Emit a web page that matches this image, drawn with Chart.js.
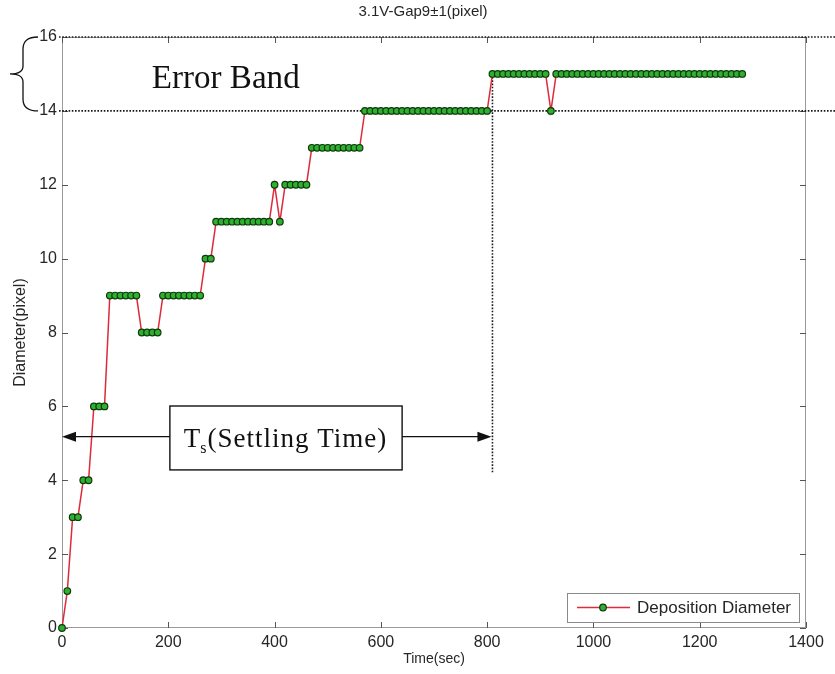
<!DOCTYPE html>
<html>
<head>
<meta charset="utf-8">
<script src="https://cdn.jsdelivr.net/npm/chart.js@4.4.1/dist/chart.umd.min.js"></script>
<style>
  html, body { margin: 0; padding: 0; background: #fff; }
  #wrap { width: 835px; height: 674px; position: relative; }
</style>
</head>
<body>
<div id="wrap"><canvas id="c" width="835" height="674"></canvas></div>
<script>
// Sample times (s) and the measured deposition diameter (pixel) at each one
const timeSec = [
  0, 10, 20, 30, 40, 50, 60, 70, 80, 90, 100, 110, 120,
  130, 140, 150, 160, 170, 180, 190, 200, 210, 220, 230, 240, 250,
  260, 270, 280, 290, 300, 310, 320, 330, 340, 350, 360, 370, 380,
  390, 400, 410, 420, 430, 440, 450, 460, 470, 480, 490, 500, 510,
  520, 530, 540, 550, 560, 570, 580, 590, 600, 610, 620, 630, 640,
  650, 660, 670, 680, 690, 700, 710, 720, 730, 740, 750, 760, 770,
  780, 790, 800, 810, 820, 830, 840, 850, 860, 870, 880, 890, 900,
  910, 920, 930, 940, 950, 960, 970, 980, 990, 1000, 1010, 1020, 1030,
  1040, 1050, 1060, 1070, 1080, 1090, 1100, 1110, 1120, 1130, 1140, 1150, 1160,
  1170, 1180, 1190, 1200, 1210, 1220, 1230, 1240, 1250, 1260, 1270, 1280
];
const diameterPx = [
  0, 1, 3, 3, 4, 4, 6, 6, 6, 9, 9, 9, 9,
  9, 9, 8, 8, 8, 8, 9, 9, 9, 9, 9, 9, 9,
  9, 10, 10, 11, 11, 11, 11, 11, 11, 11, 11, 11, 11,
  11, 12, 11, 12, 12, 12, 12, 12, 13, 13, 13, 13, 13,
  13, 13, 13, 13, 13, 14, 14, 14, 14, 14, 14, 14, 14,
  14, 14, 14, 14, 14, 14, 14, 14, 14, 14, 14, 14, 14,
  14, 14, 14, 15, 15, 15, 15, 15, 15, 15, 15, 15, 15,
  15, 14, 15, 15, 15, 15, 15, 15, 15, 15, 15, 15, 15,
  15, 15, 15, 15, 15, 15, 15, 15, 15, 15, 15, 15, 15,
  15, 15, 15, 15, 15, 15, 15, 15, 15, 15, 15, 15
];
const xTickValues = [0, 200, 400, 600, 800, 1000, 1200, 1400];
const xTickLabels = ['0', '200', '400', '600', '800', '1000', '1200', '1400'];
const yTickValues = [0, 2, 4, 6, 8, 10, 12, 14, 16];
const yTickLabels = ['0', '2', '4', '6', '8', '10', '12', '14', '16'];

const chartTitle = '3.1V-Gap9\u00b11(pixel)';
const xAxisTitle = 'Time(sec)';
const yAxisTitle = 'Diameter(pixel)';
const seriesName = 'Deposition Diameter';

// Error band limits (pixel) and settling time (s)
const errorBand = [14, 16];
const settlingTime = 810;
const settlingArrowY = 5.18;
const settlingLineBottom = 4.2;

const SANS = '"Liberation Sans", Arial, sans-serif';
const SERIF = '"Liberation Serif", "DejaVu Serif", serif';
const LINE_RED = '#dc2b3c';
const MARK_GREEN = '#2fb02f';
const MARK_EDGE = '#0c3a0c';
const TEXT_GREY = '#262626';

function dotted(ctx, x1, y1, x2, y2) {
  ctx.save();
  ctx.strokeStyle = '#1a1a1a';
  ctx.lineWidth = 1.6;
  ctx.setLineDash([1.6, 1.6]);
  ctx.beginPath();
  ctx.moveTo(x1, y1);
  ctx.lineTo(x2, y2);
  ctx.stroke();
  ctx.restore();
}

function arrow(ctx, x1, y, x2) {
  const dir = Math.sign(x2 - x1);
  ctx.save();
  ctx.strokeStyle = '#111';
  ctx.fillStyle = '#111';
  ctx.lineWidth = 1.4;
  ctx.beginPath();
  ctx.moveTo(x1, y);
  ctx.lineTo(x2 - dir * 10, y);
  ctx.stroke();
  ctx.beginPath();
  ctx.moveTo(x2, y);
  ctx.lineTo(x2 - dir * 14, y - 5);
  ctx.lineTo(x2 - dir * 14, y + 5);
  ctx.closePath();
  ctx.fill();
  ctx.restore();
}

function fitFont(ctx, family, text, width) {
  ctx.font = '100px ' + family;
  return 100 * width / ctx.measureText(text).width;
}

const matlabLook = {
  id: 'matlabLook',
  beforeDatasetsDraw(chart) {
    const { ctx, chartArea: a, scales: { x, y } } = chart;
    // axes box
    ctx.save();
    ctx.strokeStyle = '#9a9a9a';
    ctx.lineWidth = 1;
    ctx.strokeRect(a.left + 0.5, a.top + 0.5, a.right - a.left - 1, a.bottom - a.top - 1);
    // inward tick marks on all four sides
    ctx.strokeStyle = '#555';
    ctx.beginPath();
    x.ticks.forEach(t => {
      const px = Math.round(x.getPixelForValue(t.value)) + 0.5;
      ctx.moveTo(px, a.bottom); ctx.lineTo(px, a.bottom - 6);
      ctx.moveTo(px, a.top); ctx.lineTo(px, a.top + 6);
    });
    y.ticks.forEach(t => {
      const py = Math.round(y.getPixelForValue(t.value)) + 0.5;
      ctx.moveTo(a.left, py); ctx.lineTo(a.left + 6, py);
      ctx.moveTo(a.right, py); ctx.lineTo(a.right - 6, py);
    });
    ctx.stroke();
    ctx.restore();

    // error band limits and settling-time marker
    errorBand.forEach(v => {
      const py = y.getPixelForValue(v);
      dotted(ctx, a.left - 3, py, chart.width, py);
    });
    const sx = x.getPixelForValue(settlingTime);
    dotted(ctx, sx, y.getPixelForValue(15), sx, y.getPixelForValue(settlingLineBottom));
  },
  afterDatasetsDraw(chart) {
    const { ctx, chartArea: a, scales: { x, y } } = chart;
    ctx.save();

    // title
    ctx.fillStyle = TEXT_GREY;
    ctx.font = '15px ' + SANS;
    ctx.textAlign = 'center';
    ctx.textBaseline = 'middle';
    ctx.fillText(chartTitle, (a.left + a.right) / 2 - 11, 12);

    // curly brace marking the error band
    const yTop = y.getPixelForValue(errorBand[1]);
    const yBot = y.getPixelForValue(errorBand[0]);
    const ym = (yTop + yBot) / 2;
    const bx = 23, tipX = 10, endX = 38;
    ctx.strokeStyle = '#111';
    ctx.lineWidth = 1.3;
    ctx.beginPath();
    ctx.moveTo(endX, yTop);
    ctx.quadraticCurveTo(bx, yTop, bx, yTop + 12);
    ctx.lineTo(bx, ym - 8);
    ctx.quadraticCurveTo(bx, ym, tipX, ym);
    ctx.quadraticCurveTo(bx, ym, bx, ym + 8);
    ctx.lineTo(bx, yBot - 12);
    ctx.quadraticCurveTo(bx, yBot, endX, yBot);
    ctx.stroke();

    // "Error Band" label
    const ebText = 'Error Band';
    const ebSize = fitFont(ctx, SERIF, ebText, 148);
    ctx.font = ebSize.toFixed(1) + 'px ' + SERIF;
    ctx.fillStyle = '#111';
    ctx.textAlign = 'left';
    ctx.textBaseline = 'alphabetic';
    ctx.fillText(ebText, x.getPixelForValue(169), y.getPixelForValue(14.62));

    // settling time box and arrows
    const bl = x.getPixelForValue(203), br = x.getPixelForValue(640);
    const bt = y.getPixelForValue(6.01), bb = y.getPixelForValue(4.28);
    const ay = y.getPixelForValue(settlingArrowY);
    ctx.fillStyle = '#fff';
    ctx.fillRect(bl, bt, br - bl, bb - bt);
    ctx.strokeStyle = '#111';
    ctx.lineWidth = 1.4;
    ctx.strokeRect(bl, bt, br - bl, bb - bt);
    arrow(ctx, bl, ay, x.getPixelForValue(0));
    arrow(ctx, br, ay, x.getPixelForValue(settlingTime) - 1);

    const mainPart = '(Settling Time)';
    const fs = 27;
    ctx.letterSpacing = '1px';
    ctx.font = fs + 'px ' + SERIF;
    const wT = ctx.measureText('T').width;
    const wRest = ctx.measureText(mainPart).width;
    ctx.font = Math.round(fs * 0.6) + 'px ' + SERIF;
    const wS = ctx.measureText('s').width;
    const total = wT + wS + wRest;
    let tx = (bl + br) / 2 - total / 2;
    const base = (bt + bb) / 2 + 9;
    ctx.fillStyle = '#111';
    ctx.font = fs + 'px ' + SERIF;
    ctx.fillText('T', tx, base);
    tx += wT - 1;
    ctx.font = Math.round(fs * 0.6) + 'px ' + SERIF;
    ctx.fillText('s', tx, base + 6);
    tx += wS;
    ctx.font = fs + 'px ' + SERIF;
    ctx.fillText(mainPart, tx, base);
    ctx.letterSpacing = '0px';

    // legend
    const lr = a.right - 7, lb = a.bottom - 6;
    const lw = 232, lh = 29;
    const ll = lr - lw, lt = lb - lh;
    ctx.fillStyle = '#fff';
    ctx.fillRect(ll, lt, lw, lh);
    ctx.strokeStyle = '#8a8a8a';
    ctx.lineWidth = 1;
    ctx.strokeRect(ll + 0.5, lt + 0.5, lw, lh);
    const ly = lt + lh / 2;
    ctx.strokeStyle = LINE_RED;
    ctx.lineWidth = 1.5;
    ctx.beginPath();
    ctx.moveTo(ll + 10, ly);
    ctx.lineTo(ll + 63, ly);
    ctx.stroke();
    ctx.beginPath();
    ctx.arc(ll + 36, ly, 3.3, 0, Math.PI * 2);
    ctx.fillStyle = MARK_GREEN;
    ctx.fill();
    ctx.strokeStyle = MARK_EDGE;
    ctx.lineWidth = 1.2;
    ctx.stroke();
    ctx.fillStyle = TEXT_GREY;
    ctx.font = '17px ' + SANS;
    ctx.textAlign = 'left';
    ctx.textBaseline = 'middle';
    ctx.fillText(seriesName, ll + 70, ly + 1);

    ctx.restore();
  }
};

new Chart(document.getElementById('c'), {
  type: 'scatter',
  data: {
    datasets: [{
      label: seriesName,
      data: timeSec.map((t, i) => ({ x: t, y: diameterPx[i] })),
      showLine: true,
      borderColor: LINE_RED,
      borderWidth: 1.5,
      pointRadius: 3.3,
      pointBackgroundColor: MARK_GREEN,
      pointBorderColor: MARK_EDGE,
      pointBorderWidth: 1.2,
      tension: 0,
      clip: 6
    }]
  },
  options: {
    responsive: false,
    animation: false,
    devicePixelRatio: 1,
    layout: { padding: { left: 0, right: 29, top: 37, bottom: 0 } },
    plugins: {
      legend: { display: false },
      title: { display: false },
      tooltip: { enabled: false }
    },
    scales: {
      x: {
        type: 'linear',
        min: 0, max: 1400,
        afterBuildTicks: s => { s.ticks = xTickValues.map(v => ({ value: v })); },
        afterFit: s => { s.height = 46; },
        grid: { display: false, drawTicks: false },
        border: { display: false },
        ticks: {
          color: TEXT_GREY, font: { family: SANS, size: 16 }, padding: 5,
          maxRotation: 0, autoSkip: false,
          callback: (v, i) => xTickLabels[i]
        },
        title: { display: true, text: xAxisTitle, color: TEXT_GREY, font: { family: SANS, size: 14 }, padding: { top: 0, bottom: 6 } }
      },
      y: {
        type: 'linear',
        min: 0, max: 16,
        afterBuildTicks: s => { s.ticks = yTickValues.map(v => ({ value: v })); },
        afterFit: s => { s.width = 62; },
        grid: { display: false, drawTicks: false },
        border: { display: false },
        ticks: {
          color: TEXT_GREY, font: { family: SANS, size: 16 }, padding: 5, autoSkip: false,
          callback: (v, i) => yTickLabels[i]
        },
        title: { display: true, text: yAxisTitle, color: TEXT_GREY, font: { family: SANS, size: 16 }, padding: { top: 11, bottom: 0 } }
      }
    }
  },
  plugins: [matlabLook]
});
</script>
</body>
</html>
